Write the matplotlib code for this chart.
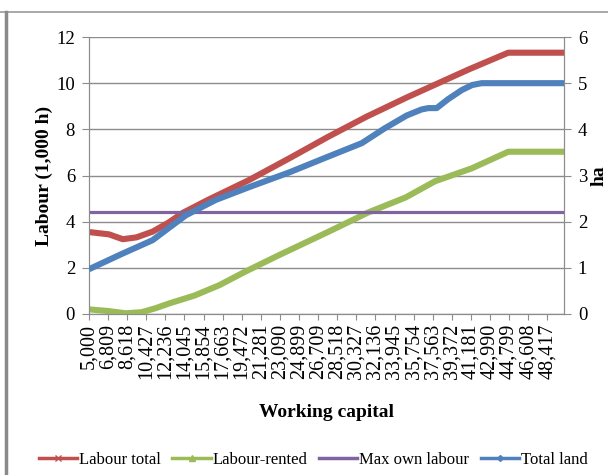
import matplotlib
matplotlib.use('Agg')
import matplotlib.pyplot as plt
from matplotlib.lines import Line2D

# working capital tick labels (every 8th category of the original sheet)
capital_labels = ['5,000', '6,809', '8,618', '10,427', '12,236', '14,045', '15,854',
                  '17,663', '19,472', '21,281', '23,090', '24,899', '26,709', '28,518',
                  '30,327', '32,136', '33,945', '35,754', '37,563', '39,372', '41,181',
                  '42,990', '44,799', '46,608', '48,417']

# Labour total (1,000 h)
red_x = [5000, 6900, 8200, 9500, 11030, 12500, 13880, 16300, 20190, 24000,
         27670, 31300, 35100, 38000, 41000, 44720, 50000]
red_y = [3.55, 3.45, 3.24, 3.32, 3.57, 3.95, 4.38, 4.95, 5.81, 6.75,
         7.68, 8.55, 9.38, 9.98, 10.6, 11.32, 11.32]

# Labour-rented (1,000 h)
green_x = [5000, 6800, 8500, 10000, 11300, 12610, 15000, 17350, 19780, 23000,
           27670, 31460, 35000, 37780, 41260, 44720, 50000]
green_y = [0.20, 0.13, 0.03, 0.08, 0.25, 0.46, 0.80, 1.25, 1.83, 2.55,
           3.56, 4.40, 5.05, 5.75, 6.31, 7.03, 7.03]

# Max own labour (1,000 h)
purple_x = [5000, 50000]
purple_y = [4.4, 4.4]

# Total land (ha, right axis)
blue_x = [5000, 8000, 11030, 12600, 14190, 17000, 20190, 24000, 27670, 30840,
          33000, 35100, 36500, 37150, 37940, 39000, 40310, 41300, 42200, 50000]
blue_y = [0.97, 1.29, 1.60, 1.87, 2.14, 2.47, 2.75, 3.07, 3.41, 3.70,
          4.02, 4.30, 4.43, 4.46, 4.46, 4.65, 4.85, 4.96, 5.0, 5.0]

RED = '#C0504D'
GREEN = '#9BBB59'
PURPLE = '#8064A2'
BLUE = '#4F81BD'
GRID = '#8C8C8C'

plt.rcParams['font.family'] = ['Liberation Serif', 'DejaVu Serif']
plt.rcParams['font.size'] = 13.5

fig = plt.figure(figsize=(6.08, 4.75), dpi=100)
ax = fig.add_axes([89 / 608, 1 - 314 / 475, 475 / 608, 277 / 475])
ax2 = ax.twinx()

ax.plot(red_x, red_y, color=RED, lw=4.4, solid_capstyle='butt', zorder=3)
ax.plot(green_x, green_y, color=GREEN, lw=4.4, solid_capstyle='butt', zorder=3)
ax.plot(purple_x, purple_y, color=PURPLE, lw=2.3, zorder=3)
ax2.plot(blue_x, blue_y, color=BLUE, lw=4.4, solid_capstyle='butt', zorder=3)

ax.set_xlim(5000, 50000)
ax.set_ylim(0, 12)
ax2.set_ylim(0, 6)
ax.set_yticks(range(0, 13, 2))
ax2.set_yticks(range(0, 7))

ticks = [int(s.replace(',', '')) for s in capital_labels]
ax.set_xticks(ticks)
ax.set_xticklabels(capital_labels, rotation=90, fontsize=14.5)

ax.grid(axis='y', color=GRID, lw=1)
ax.set_axisbelow(True)
for a in (ax, ax2):
    a.spines['top'].set_visible(False)
    for s in ('left', 'right', 'bottom'):
        a.spines[s].set_color(GRID)
ax.tick_params(axis='both', colors=GRID, labelcolor='black', length=5, direction='out')
ax.tick_params(axis='x', length=4, pad=3)
ax.tick_params(axis='y', pad=5)
ax2.tick_params(axis='y', colors=GRID, labelcolor='black', length=5, pad=5)

ax.set_ylabel('Labour (1,000 h)', fontweight='bold', fontsize=14, ha='center', va='center')
ax.yaxis.set_label_coords(-0.093, 0.5)
ax2.set_ylabel('ha', fontweight='bold', fontsize=14, ha='center', va='center')
ax2.yaxis.set_label_coords(1.074, 0.5)
ax.set_xlabel('Working capital', fontweight='bold', fontsize=14, va='center')
ax.xaxis.set_label_coords(0.5, -0.354)

handles = [
    Line2D([], [], color=RED, lw=2.5, marker='x', ms=4),
    Line2D([], [], color=GREEN, lw=2.5, marker='^', ms=4),
    Line2D([], [], color=PURPLE, lw=2.5),
    Line2D([], [], color=BLUE, lw=2.5, marker='D', ms=3),
]
names = ['Labour total', 'Labour-rented', 'Max own labour', 'Total land']
fig.legend(handles, names, loc='center', bbox_to_anchor=(0.515, 0.031), ncol=4,
           frameon=False, handlelength=2.3, handletextpad=0.1, columnspacing=0.7,
           fontsize=12)

# outer chart frame (top and left edges visible in the reference)
fig.add_artist(Line2D([0, 1], [1 - 12 / 475] * 2, color='#9A9A9A', lw=1.2,
                      transform=fig.transFigure))
fig.add_artist(Line2D([6 / 608] * 2, [0, 1 - 12 / 475], color='#8A8A8A', lw=2.5,
                      transform=fig.transFigure))

fig.savefig('out.png', dpi=100)
